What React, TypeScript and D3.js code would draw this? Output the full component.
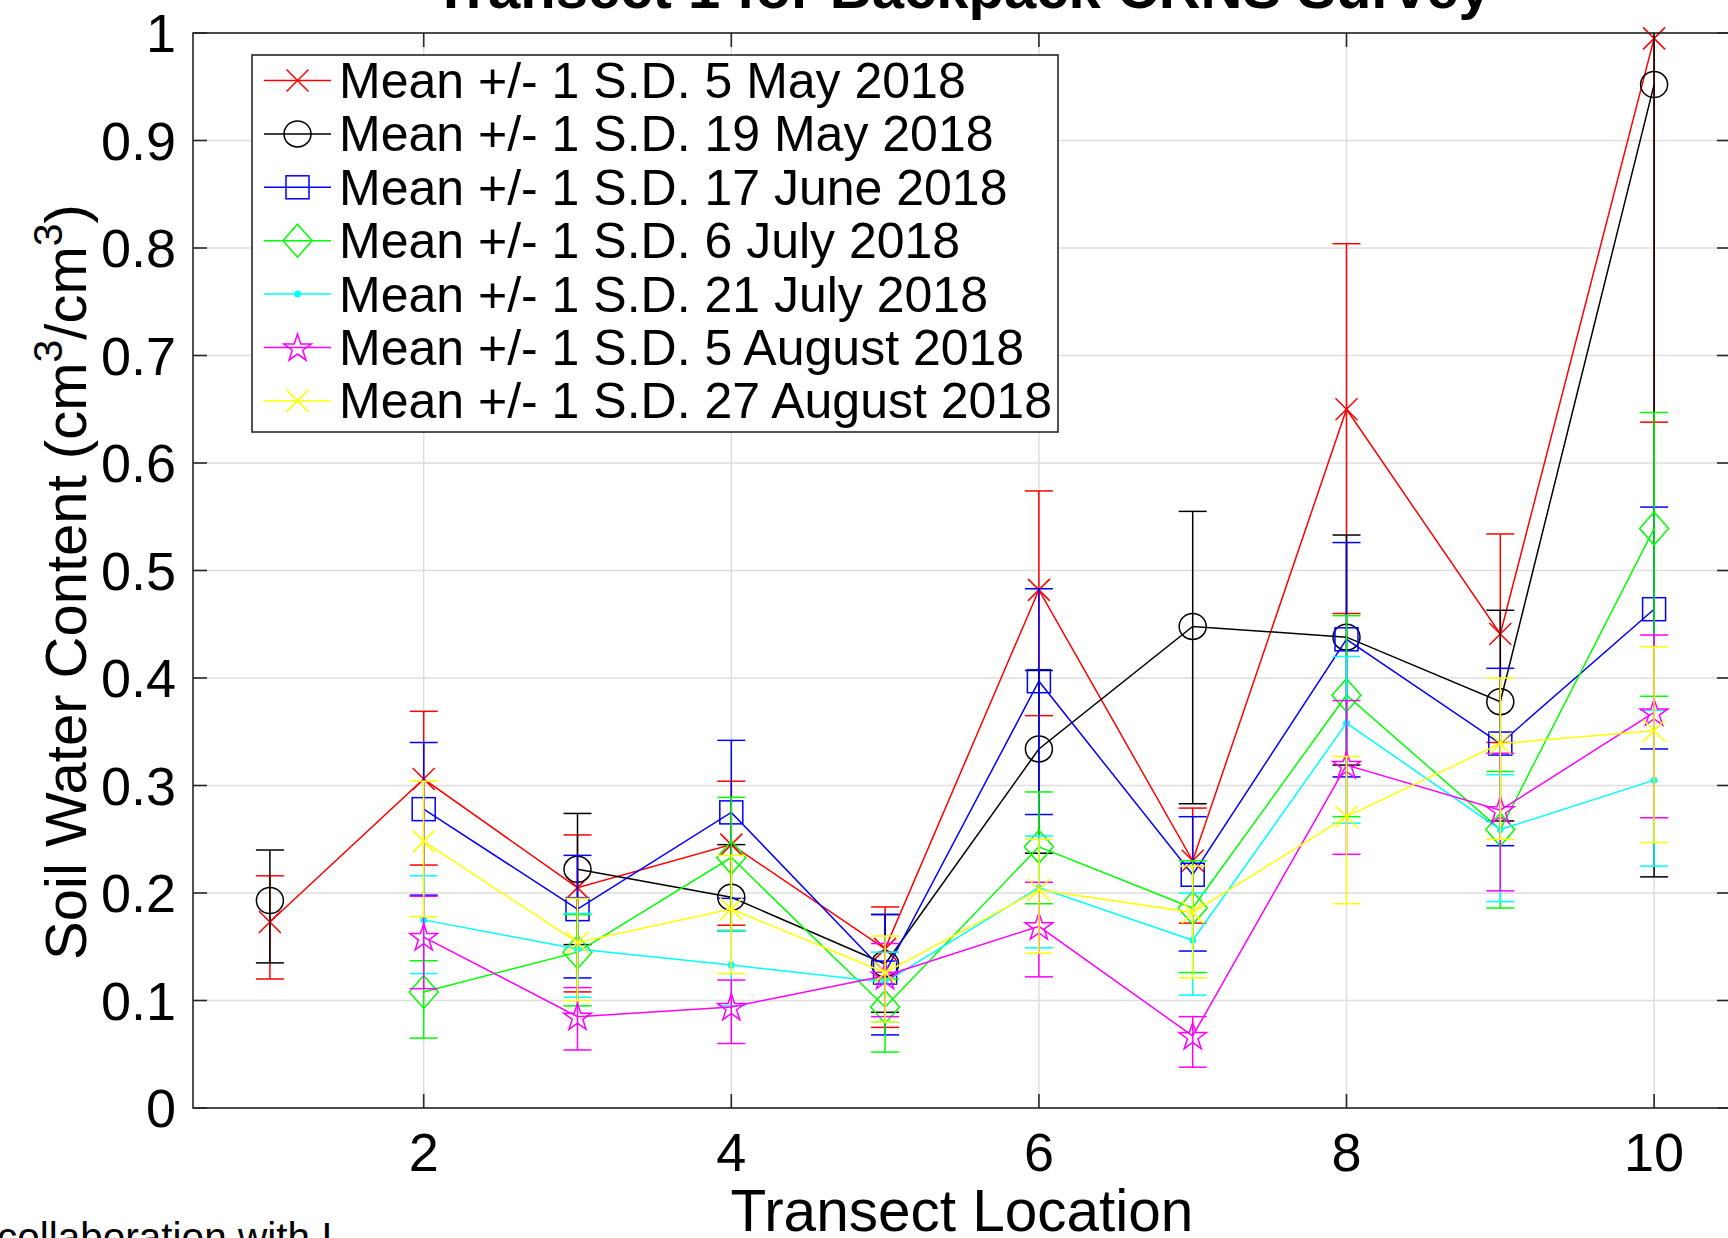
import React from 'react';
import * as d3 from 'd3';

// ---------- data ----------
const locations = [1, 2, 3, 4, 5, 6, 7, 8, 9, 10];
const xTickValues = [2, 4, 6, 8, 10];
const yTickValues = [0, 0.1, 0.2, 0.3, 0.4, 0.5, 0.6, 0.7, 0.8, 0.9, 1];

const seriesLabels = [
  'Mean +/- 1 S.D. 5 May 2018',
  'Mean +/- 1 S.D. 19 May 2018',
  'Mean +/- 1 S.D. 17 June 2018',
  'Mean +/- 1 S.D. 6 July 2018',
  'Mean +/- 1 S.D. 21 July 2018',
  'Mean +/- 1 S.D. 5 August 2018',
  'Mean +/- 1 S.D. 27 August 2018',
];

const may5Mean = [0.173, 0.306, 0.205, 0.245, 0.148, 0.482, 0.23, 0.65, 0.441, 0.995];
const may5Lo = [0.12, 0.226, 0.108, 0.17, 0.075, 0.365, 0.172, 0.46, 0.34, 0.638];
const may5Hi = [0.216, 0.369, 0.254, 0.304, 0.187, 0.574, 0.279, 0.804, 0.534, 1.35];

const may19Mean = [0.193, null, 0.222, 0.196, 0.134, 0.334, 0.448, 0.438, 0.378, 0.952];
const may19Lo = [0.135, null, 0.152, 0.165, 0.089, 0.237, 0.283, 0.319, 0.267, 0.215];
const may19Hi = [0.24, null, 0.274, 0.245, 0.18, 0.407, 0.555, 0.533, 0.463, 1.69];

const jun17Mean = [null, 0.278, 0.185, 0.275, 0.126, 0.397, 0.217, 0.436, 0.339, 0.464];
const jun17Lo = [null, 0.198, 0.121, 0.195, 0.068, 0.273, 0.146, 0.308, 0.244, 0.334];
const jun17Hi = [null, 0.34, 0.235, 0.342, 0.18, 0.483, 0.271, 0.526, 0.409, 0.559];

const jul6Mean = [null, 0.108, 0.145, 0.233, 0.094, 0.243, 0.186, 0.384, 0.259, 0.539];
const jul6Lo = [null, 0.065, 0.095, 0.165, 0.052, 0.19, 0.126, 0.271, 0.186, 0.383];
const jul6Hi = [null, 0.137, 0.18, 0.289, 0.12, 0.294, 0.23, 0.458, 0.313, 0.647];

const jul21Mean = [null, 0.175, 0.148, 0.133, 0.117, 0.205, 0.156, 0.358, 0.259, 0.305];
const jul21Lo = [null, 0.125, 0.103, 0.095, 0.08, 0.149, 0.105, 0.265, 0.192, 0.225];
const jul21Hi = [null, 0.216, 0.181, 0.165, 0.145, 0.253, 0.2, 0.42, 0.31, 0.37];

const aug5Mean = [null, 0.159, 0.085, 0.094, 0.123, 0.169, 0.067, 0.319, 0.277, 0.368];
const aug5Lo = [null, 0.111, 0.054, 0.06, 0.085, 0.122, 0.038, 0.236, 0.202, 0.27];
const aug5Hi = [null, 0.197, 0.112, 0.119, 0.153, 0.21, 0.085, 0.379, 0.33, 0.44];

const aug27Mean = [null, 0.248, 0.154, 0.185, 0.126, 0.203, 0.182, 0.271, 0.339, 0.351];
const aug27Lo = [null, 0.178, 0.1, 0.125, 0.08, 0.144, 0.121, 0.19, 0.25, 0.247];
const aug27Hi = [null, 0.304, 0.195, 0.235, 0.16, 0.25, 0.225, 0.327, 0.4, 0.429];

const seriesColors = ['#ff0000', '#000000', '#0000ff', '#00ff00', '#00ffff', '#ff00ff', '#ffff00'];
const seriesMarkers = ['x', 'o', 's', 'd', '.', 'p', 'x'];

const allSeries = [
  { mean: may5Mean, lo: may5Lo, hi: may5Hi },
  { mean: may19Mean, lo: may19Lo, hi: may19Hi },
  { mean: jun17Mean, lo: jun17Lo, hi: jun17Hi },
  { mean: jul6Mean, lo: jul6Lo, hi: jul6Hi },
  { mean: jul21Mean, lo: jul21Lo, hi: jul21Hi },
  { mean: aug5Mean, lo: aug5Lo, hi: aug5Hi },
  { mean: aug27Mean, lo: aug27Lo, hi: aug27Hi },
].map((s, i) => ({ ...s, label: seriesLabels[i], color: seriesColors[i], marker: seriesMarkers[i] }));

// ---------- layout ----------
const W = 1728;
const H = 1238;
const plotL = 193;
const plotR = 1731;
const plotT = 33;
const plotB = 1108;
const FONT = '"Liberation Sans", Arial, Helvetica, sans-serif';
const AX = '#262626';

const xScale = d3.scaleLinear().domain([0.5, 10.5]).range([plotL, plotR]);
const yScale = d3.scaleLinear().domain([0, 1]).range([plotB, plotT]);

function pentagram(cx: number, cy: number, R: number) {
  const r = R * 0.382;
  const pts: string[] = [];
  for (let k = 0; k < 10; k++) {
    const ang = -Math.PI / 2 + (k * Math.PI) / 5;
    const rad = k % 2 === 0 ? R : r;
    pts.push(`${cx + rad * Math.cos(ang)},${cy + rad * Math.sin(ang)}`);
  }
  return 'M' + pts.join('L') + 'Z';
}

function Marker({ type, cx, cy, color }: { type: string; cx: number; cy: number; color: string }) {
  const sw = 1.5;
  switch (type) {
    case 'x': {
      const h = 11;
      return (
        <path d={`M${cx - h},${cy - h}L${cx + h},${cy + h}M${cx - h},${cy + h}L${cx + h},${cy - h}`} stroke={color} strokeWidth={sw} fill="none" />
      );
    }
    case 'o':
      return <ellipse cx={cx} cy={cy} rx={13.5} ry={13} stroke={color} strokeWidth={sw} fill="none" />;
    case 's':
      return <rect x={cx - 11.5} y={cy - 11.5} width={23} height={23} stroke={color} strokeWidth={sw} fill="none" />;
    case 'd':
      return (
        <path d={`M${cx},${cy - 16.5}L${cx + 14.5},${cy}L${cx},${cy + 16.5}L${cx - 14.5},${cy}Z`} stroke={color} strokeWidth={sw} fill="none" />
      );
    case '.':
      return <circle cx={cx} cy={cy} r={3.5} fill={color} />;
    case 'p':
      return <path d={pentagram(cx, cy + 1, 14.5)} stroke={color} strokeWidth={sw} fill="none" />;
    default:
      return null;
  }
}

export default function App() {
  const line = d3
    .line<number | null>()
    .defined((d) => d !== null)
    .x((_, i) => xScale(locations[i]))
    .y((d) => yScale(d as number));

  const capHalf = 14;
  const legendX = 252;
  const legendY = 55;
  const legendW = 806;
  const legendH = 377;
  const rowY0 = 80.5;
  const rowStep = 53.4;

  return (
    <svg
      width={W}
      height={H}
      viewBox={`0 0 ${W} ${H}`}
      style={{ position: 'absolute', left: 0, top: 0, background: '#fff' }}
      fontFamily={FONT}
    >
      <defs>
        <clipPath id="plotClip">
          <rect x={plotL} y={plotT} width={plotR - plotL} height={plotB - plotT} />
        </clipPath>
      </defs>
      <rect x={0} y={0} width={W} height={H} fill="#fff" />
      <rect x={plotL} y={plotT} width={plotR - plotL} height={plotB - plotT} fill="#fff" />

      {/* grid */}
      <g stroke="#dedede" strokeWidth={1.5}>
        {xTickValues.map((t) => (
          <line key={'gx' + t} x1={xScale(t)} x2={xScale(t)} y1={plotT} y2={plotB} />
        ))}
        {yTickValues.map((t) => (
          <line key={'gy' + t} x1={plotL} x2={plotR} y1={yScale(t)} y2={yScale(t)} />
        ))}
      </g>

      {/* series */}
      {allSeries.map((s, si) => (
        <g key={'s' + si}>
          <g clipPath="url(#plotClip)">
            <path d={line(s.mean) || ''} stroke={s.color} strokeWidth={1.5} fill="none" />
            {s.mean.map((m, i) => {
              if (m === null) return null;
              const cx = xScale(locations[i]);
              const yl = yScale(s.lo[i] as number);
              const yh = yScale(s.hi[i] as number);
              return (
                <g key={'e' + i} stroke={s.color} strokeWidth={1.5}>
                  <line x1={cx} x2={cx} y1={yl} y2={yh} />
                  <line x1={cx - capHalf} x2={cx + capHalf} y1={yl} y2={yl} />
                  <line x1={cx - capHalf} x2={cx + capHalf} y1={yh} y2={yh} />
                </g>
              );
            })}
          </g>
          {s.mean.map((m, i) =>
            m === null ? null : (
              <Marker key={'m' + i} type={s.marker} cx={xScale(locations[i])} cy={yScale(m)} color={s.color} />
            )
          )}
        </g>
      ))}

      {/* axes box and ticks */}
      <g stroke={AX} strokeWidth={1.6} fill="none">
        <rect x={plotL} y={plotT} width={plotR - plotL} height={plotB - plotT} />
        {xTickValues.map((t) => (
          <g key={'tx' + t}>
            <line x1={xScale(t)} x2={xScale(t)} y1={plotB} y2={plotB - 14} />
            <line x1={xScale(t)} x2={xScale(t)} y1={plotT} y2={plotT + 14} />
          </g>
        ))}
        {yTickValues.map((t) => (
          <g key={'ty' + t}>
            <line x1={plotL} x2={plotL + 14} y1={yScale(t)} y2={yScale(t)} />
            <line x1={plotR} x2={plotR - 14} y1={yScale(t)} y2={yScale(t)} />
          </g>
        ))}
      </g>

      {/* tick labels */}
      <g fill="#000" fontSize={54}>
        {xTickValues.map((t) => (
          <text key={'lx' + t} x={xScale(t)} y={1171} textAnchor="middle">
            {String(t)}
          </text>
        ))}
        {yTickValues.map((t) => (
          <text key={'ly' + t} x={176} y={yScale(t) + 19} textAnchor="end">
            {String(+t.toFixed(1))}
          </text>
        ))}
      </g>

      {/* axis labels */}
      <text x={(plotL + plotR) / 2} y={1231} textAnchor="middle" fontSize={58.5} fill="#000">
        Transect Location
      </text>
      <text
        transform={`translate(86, 582) rotate(-90)`}
        textAnchor="middle"
        fontSize={58}
        fill="#000"
      >
        Soil Water Content (cm
        <tspan fontSize={41} dy={-24}>3</tspan>
        <tspan dy={24}>/cm</tspan>
        <tspan fontSize={41} dy={-24}>3</tspan>
        <tspan dy={24}>)</tspan>
      </text>

      {/* title (clipped by top of image) */}
      <text x={(plotL + plotR) / 2} y={8} textAnchor="middle" fontSize={58} fontWeight="bold" fill="#000">
        Transect 1 for Backpack CRNS Survey
      </text>

      {/* stray caption text at bottom-left */}
      <text x={-3} y={1251} fontSize={40.5} fill="#000">
        collaboration with I
      </text>

      {/* legend */}
      <g>
        <rect x={legendX} y={legendY} width={legendW} height={legendH} fill="#fff" stroke={AX} strokeWidth={1.6} />
        {allSeries.map((s, i) => {
          const cy = rowY0 + i * rowStep;
          return (
            <g key={'lg' + i}>
              <line x1={264} x2={331} y1={cy} y2={cy} stroke={s.color} strokeWidth={1.5} />
              <Marker type={s.marker} cx={297.5} cy={cy} color={s.color} />
              <text x={339} y={cy + 17.5} fontSize={50} fill="#000">
                {s.label}
              </text>
            </g>
          );
        })}
      </g>
    </svg>
  );
}
